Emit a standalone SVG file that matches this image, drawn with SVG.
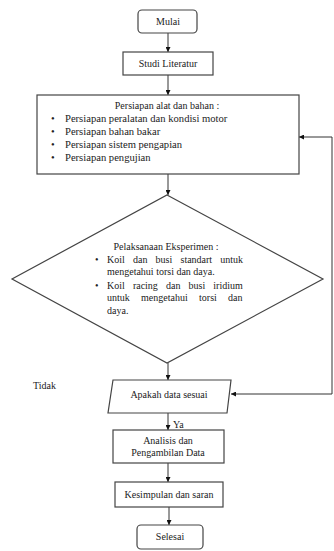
<svg xmlns="http://www.w3.org/2000/svg" width="334" height="551" viewBox="0 0 334 551">
<style>
.s{fill:#fff;stroke:#444;stroke-width:1.2}
.t{font-family:"Liberation Serif","Times New Roman",serif;font-size:10px;fill:#222}
.c{text-anchor:middle}
.ln{fill:none;stroke:#333;stroke-width:1}
</style>
<defs>
<marker id="ah" viewBox="0 0 8 8" refX="8" refY="4" markerWidth="5" markerHeight="5" markerUnits="userSpaceOnUse" orient="auto-start-reverse">
<path d="M0,0 L8,4 L0,8 z" fill="#111"/>
</marker>
</defs>
<rect width="334" height="551" fill="#fff"/>
<g id="connectors">
<line class="ln" x1="168" y1="33" x2="168" y2="52" marker-end="url(#ah)"/>
<line class="ln" x1="168" y1="75" x2="168" y2="95" marker-end="url(#ah)"/>
<line class="ln" x1="168" y1="174" x2="168" y2="195" marker-end="url(#ah)"/>
<line class="ln" x1="168" y1="363" x2="168" y2="380" marker-end="url(#ah)"/>
<line class="ln" x1="168" y1="413" x2="168" y2="430" marker-end="url(#ah)"/>
<line class="ln" x1="168" y1="463" x2="168" y2="482" marker-end="url(#ah)"/>
<line class="ln" x1="169" y1="507" x2="169" y2="525" marker-end="url(#ah)"/>
<polyline class="ln" points="299,137 332,137 332,394 231,394" marker-start="url(#ah)" marker-end="url(#ah)"/>
<text class="t" x="173" y="428">Ya</text>
<text class="t" x="33" y="389">Tidak</text>
</g>
<g id="mulai">
<rect class="s" x="138" y="10" width="59" height="23" rx="4"/>
<text class="t c" x="168" y="25">Mulai</text>
</g>
<g id="studi">
<rect class="s" x="123" y="52" width="90" height="23"/>
<text class="t c" x="168" y="67">Studi Literatur</text>
</g>
<g id="persiapan">
<rect class="s" x="37" y="95" width="262" height="79"/>
<text class="t c" x="167" y="109">Persiapan alat dan bahan :</text>
<g class="t" style="font-size:10.6px">
<text x="51" y="122">•</text><text x="65" y="122">Persiapan peralatan dan kondisi motor</text>
<text x="51" y="135">•</text><text x="65" y="135">Persiapan bahan bakar</text>
<text x="51" y="148">•</text><text x="65" y="148">Persiapan sistem pengapian</text>
<text x="51" y="161">•</text><text x="65" y="161">Persiapan pengujian</text>
</g>
</g>
<g id="eksperimen">
<polygon class="s" points="167,195 323,279 167,363 12,279"/>
<text class="t c" x="166" y="250">Pelaksanaan Eksperimen :</text>
<g class="t">
<text x="95" y="263">•</text><text x="107" y="263" word-spacing="5.7">Koil dan busi standart untuk</text>
<text x="107" y="275">mengetahui torsi dan daya.</text>
<text x="95" y="289">•</text><text x="107" y="289" word-spacing="5.6">Koil racing dan busi iridium</text>
<text x="107" y="301" word-spacing="8.8">untuk mengetahui torsi dan</text>
<text x="107" y="314">daya.</text>
</g>
</g>
<g id="sesuai">
<polygon class="s" points="113,380 231,380 227,413 108,413"/>
<text class="t c" x="169" y="398">Apakah data sesuai</text>
</g>
<g id="analisis">
<rect class="s" x="113" y="430" width="111" height="33"/>
<text class="t c" x="168" y="444">Analisis dan</text>
<text class="t c" x="168" y="456">Pengambilan Data</text>
</g>
<g id="kesimpulan">
<rect class="s" x="115" y="482" width="108" height="25"/>
<text class="t c" x="169" y="498">Kesimpulan dan saran</text>
</g>
<g id="selesai">
<rect class="s" x="137" y="525" width="66" height="24" rx="4"/>
<text class="t c" x="170" y="540">Selesai</text>
</g>
</svg>
